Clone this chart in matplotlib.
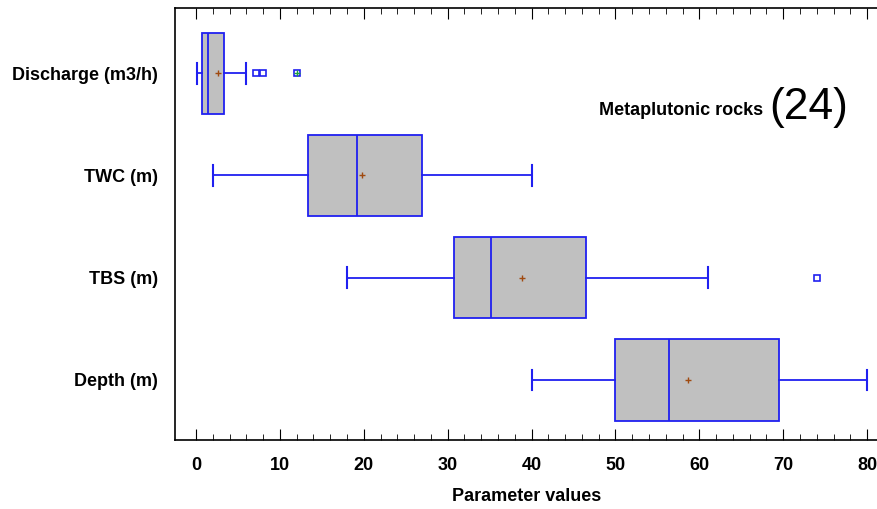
import matplotlib.pyplot as plt

plt.rcParams['font.family'] = ['Liberation Sans', 'DejaVu Sans']

# Box plot summaries (top row first)
labels = ['Discharge (m3/h)', 'TWC (m)', 'TBS (m)', 'Depth (m)']
whis_lo = [0.15, 2.0, 18.0, 40.0]
q1 = [0.7, 13.4, 30.7, 50.0]
median = [1.4, 19.2, 35.2, 56.4]
q3 = [3.3, 26.9, 46.5, 69.5]
whis_hi = [6.0, 40.0, 61.0, 80.0]
means = [2.6, 19.8, 38.9, 58.6]
outliers = [[7.1, 8.0], [], [74.0], []]
far_outliers = [[12.0], [], [], []]

positions = [4, 3, 2, 1]

stats = []
for i in range(len(labels)):
    stats.append({
        'label': labels[i],
        'whislo': whis_lo[i], 'q1': q1[i], 'med': median[i],
        'q3': q3[i], 'whishi': whis_hi[i], 'mean': means[i],
        'fliers': outliers[i] + far_outliers[i],
    })

fig = plt.figure(figsize=(8.78, 5.09), dpi=100)
ax = fig.add_axes([0.1993, 0.1356, 0.8007, 0.8487])

blue = '#2020f0'
ax.bxp(stats, positions=positions, vert=False, widths=0.8, capwidths=0.2,
       showmeans=True, patch_artist=True,
       boxprops=dict(facecolor='#c0c0c0', edgecolor=blue, linewidth=1.3),
       medianprops=dict(color=blue, linewidth=1.3),
       whiskerprops=dict(color=blue, linewidth=1.3),
       capprops=dict(color=blue, linewidth=1.5),
       meanprops=dict(marker='+', markeredgecolor='#a04a10', markersize=4, markeredgewidth=1),
       flierprops=dict(marker='s', markerfacecolor='none', markeredgecolor=blue,
                       markersize=4, markeredgewidth=1.2))

# far-outside points get a plus inside the square
for i in range(len(labels)):
    for v in far_outliers[i]:
        ax.plot(v, positions[i], marker='+', color='#20a040', markersize=4, markeredgewidth=1)

ax.set_xlim(-2.5, 81.3)
ax.set_ylim(0.41, 4.64)
ax.set_xticks(range(0, 81, 10))
ax.set_xticks(range(0, 82, 2), minor=True)
ax.set_yticks(positions)
ax.set_yticklabels(labels, fontsize=13, fontweight='bold')
for t in ax.get_xticklabels():
    t.set_fontsize(13)
    t.set_fontweight('bold')

ax.tick_params(axis='x', which='both', direction='in', top=True, pad=12)
ax.tick_params(axis='x', which='major', length=8)
ax.tick_params(axis='x', which='minor', length=4)
ax.tick_params(axis='y', length=0, pad=12)
ax.spines['right'].set_visible(False)
for s in ['left', 'bottom', 'top']:
    ax.spines[s].set_linewidth(1.2)

ax.set_xlabel('Parameter values', fontsize=13, fontweight='bold', labelpad=10)

ax.text(0.836, 0.762, 'Metaplutonic rocks', transform=ax.transAxes, ha='right', va='center',
        fontsize=13, fontweight='bold')
ax.text(0.846, 0.77, '(24)', transform=ax.transAxes, ha='left', va='center', fontsize=32)

fig.savefig('out.png', dpi=100)
